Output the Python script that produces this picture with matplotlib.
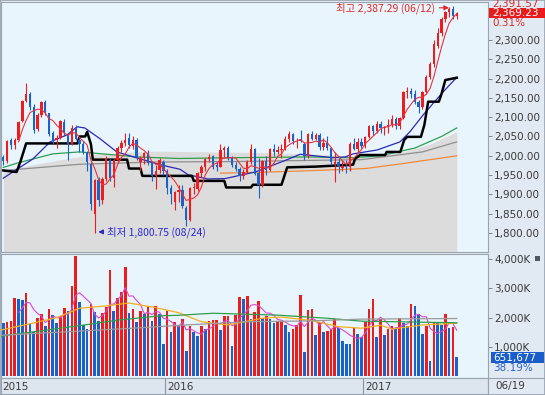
import numpy as np
import pandas as pd
import matplotlib
matplotlib.use("Agg")
import matplotlib.pyplot as plt
from matplotlib.patches import Rectangle

# weekly candles, Mar 9 2015 .. Jun 19 2017
opens = [1998, 1986, 2040, 2028, 2042, 2090, 2143, 2160, 2125, 2070, 2105, 2140, 2110, 2058, 2040, 2046, 2088, 2055, 2031, 2075,
         2040, 2030, 2010, 1980, 1850, 1937, 1886, 1941, 1990, 1942, 1990, 2019, 2034, 2045, 2025, 2040, 1985, 1995, 2006, 1982,
         1948, 1962, 1985, 1961, 1917, 1880, 1905, 1912, 1865, 1835, 1916, 1915, 1955, 1971, 1992, 2000, 1975, 1972, 2015, 2020,
         1994, 1976, 1966, 1947, 1957, 1985, 2017, 1955, 1925, 1987, 1963, 2017, 2010, 2016, 2017, 2044, 2056, 2037, 2040, 2030,
         1999, 2056, 2043, 2054, 2022, 2033, 2019, 1980, 1984, 1968, 1974, 1971, 2031, 2017, 2035, 2026, 2049, 2076, 2065, 2083,
         2073, 2075, 2080, 2094, 2078, 2097, 2164, 2168, 2160, 2140, 2125, 2165, 2205, 2238, 2285, 2318, 2355, 2371, 2381, 2361.83]
highs = [2003, 2040, 2047, 2045, 2090, 2145, 2189, 2165, 2135, 2112, 2142, 2145, 2112, 2065, 2055, 2092, 2095, 2060, 2080, 2080,
         2045, 2038, 2012, 1985, 1940, 1945, 1945, 2000, 1995, 1995, 2025, 2040, 2060, 2060, 2050, 2045, 2000, 2010, 2015, 1985,
         1975, 1995, 1990, 1965, 1925, 1910, 1925, 1925, 1870, 1918, 1930, 1958, 1975, 1995, 2005, 2003, 1985, 2030, 2025, 2025,
         2000, 1985, 1970, 1965, 1990, 2030, 2020, 1995, 1990, 2000, 2020, 2030, 2025, 2030, 2050, 2063, 2060, 2045, 2068, 2035,
         2060, 2065, 2060, 2058, 2045, 2050, 2022, 2010, 1995, 1990, 1990, 2035, 2045, 2045, 2045, 2052, 2080, 2080, 2090, 2090,
         2078, 2095, 2105, 2100, 2100, 2168, 2178, 2175, 2170, 2145, 2168, 2208, 2242, 2300, 2330, 2360, 2375, 2385, 2387.29, 2372]
lows = [1975, 1982, 2018, 2017, 2040, 2088, 2140, 2118, 2060, 2065, 2100, 2105, 2050, 2030, 2020, 2044, 2050, 1990, 2028, 2040,
        2010, 2005, 1960, 1860, 1800.75, 1870, 1875, 1935, 1935, 1920, 1985, 2010, 2025, 2020, 2018, 1990, 1960, 1980, 1975, 1935,
        1915, 1955, 1950, 1900, 1875, 1860, 1880, 1865, 1817, 1830, 1900, 1910, 1945, 1960, 1985, 1965, 1960, 1970, 1995, 1990,
        1970, 1960, 1935, 1940, 1955, 1980, 1950, 1892, 1920, 1950, 1960, 2000, 2005, 1995, 2015, 2035, 2030, 2020, 2035, 1990,
        1995, 2040, 2040, 2015, 2015, 2015, 1975, 1931, 1955, 1960, 1955, 1960, 2015, 2010, 2020, 2020, 2045, 2055, 2060, 2060,
        2055, 2060, 2075, 2070, 2070, 2095, 2150, 2150, 2135, 2110, 2120, 2160, 2200, 2230, 2280, 2310, 2345, 2360, 2355, 2355]
closes = [1986, 2037, 2028, 2042, 2087, 2143, 2159, 2127, 2068, 2106, 2138, 2114, 2056, 2042, 2046, 2090, 2058, 2031, 2073, 2044,
          2030, 2010, 1983, 1876, 1937, 1886, 1941, 1995, 1942, 1990, 2019, 2034, 2040, 2029, 2040, 1996, 1995, 2006, 1982, 1948,
          1960, 1990, 1961, 1917, 1900, 1905, 1912, 1870, 1835, 1916, 1920, 1955, 1971, 1992, 1998, 1970, 1972, 2015, 2020, 1994,
          1976, 1966, 1947, 1957, 1985, 2017, 1953, 1925, 1987, 1963, 2017, 2010, 2016, 2017, 2044, 2056, 2037, 2038, 2037, 1999,
          2056, 2043, 2054, 2022, 2033, 2019, 1983, 1984, 1974, 1974, 1971, 2031, 2017, 2035, 2026, 2049, 2076, 2065, 2083, 2073,
          2075, 2080, 2094, 2078, 2097, 2164, 2168, 2160, 2140, 2125, 2165, 2205, 2238, 2290, 2318, 2355, 2371, 2381, 2361.83, 2369.23]
volume_k = [1824, 1860, 1870, 2670, 2630, 2590, 2840, 1780, 1520, 1990, 2140, 1720, 2280, 2080, 1820, 2050, 2340, 2230, 3070, 4085,
            2525, 1750, 1610, 2470, 2200, 1900, 2170, 2370, 3640, 2230, 2660, 2890, 3710, 2170, 2280, 1860, 2230, 2140, 2390, 1900,
            2390, 2110, 1100, 2230, 1520, 1860, 1720, 1950, 865, 1720, 1500, 1360, 1720, 1610, 1900, 1910, 1920, 1590, 2040, 2070,
            1020, 2090, 2700, 2630, 2740, 1960, 2200, 2560, 1990, 2070, 1950, 1810, 1860, 1880, 1750, 1520, 1610, 1750, 2760, 840,
            2260, 2290, 1410, 1860, 1520, 1540, 1610, 1950, 1630, 1200, 1110, 1100, 1630, 1430, 1350, 1860, 2290, 2620, 1350, 1940,
            1400, 1610, 1720, 1630, 1990, 1820, 1720, 2470, 2390, 2140, 1430, 1720, 535, 1810, 1810, 1750, 2120, 1630, 1690, 651.677]

# longer averages (week index, value)
ma20_idx = [0, 7.8, 12.3, 16.7, 19.4, 21.4, 25.4, 29.8, 35.9, 41.1, 46.4, 48.5, 53.7, 58.2, 66.1, 74.5, 77.9, 86.5, 89.7, 91.8, 98.1, 104.1, 106.7, 110.2, 113.8, 115.4, 119]
ma20_val = [1942, 1992, 2036, 2054, 2075, 2072, 2044, 2010, 1992, 1977, 1965, 1951, 1940, 1941, 1958, 1990, 2004, 1995, 1997, 2005, 2015, 2036, 2062, 2106, 2147, 2165, 2203]
ma60_idx = [0, 4, 13, 20, 26, 35, 46, 60, 80, 92, 99, 108, 115, 119]
ma60_val = [1970, 1982, 2005, 2010, 2005, 1997, 1993, 1995, 1997, 1995, 2000, 2020, 2050, 2072]
ma120_idx = [0, 20, 40, 60, 80, 94, 110, 119]
ma120_val = [1962, 1978, 1984, 1985, 1988, 1990, 2010, 2036]
band_idx = [0, 15, 25, 40, 55, 70, 85, 94, 105, 112, 119]
band_val = [1962, 1990, 2005, 2012, 2010, 2008, 2003, 1995, 2010, 2030, 2062]
ma240_idx = [57, 70, 85, 95, 105, 112, 119]
ma240_val = [1955, 1958, 1963, 1967, 1980, 1990, 2000]
mid52_idx = [0, 3.5, 4.5, 6, 19.5, 20, 21.5, 22, 23, 23.5, 32.5, 33, 36, 36.5, 49.5, 50, 58, 58.5, 65, 65.5, 73, 74.5, 82, 91.8,
             92.3, 93.6, 100.2, 100.6, 104.2, 105.2, 106, 109.6, 110.5, 111.5, 114.3, 115, 116, 119]
mid52_val = [1962, 1958, 1985, 2032, 2032, 2050, 2050, 2062, 2030, 1990, 1990, 1967, 1967, 1948, 1948, 1935, 1935, 1918, 1918, 1925,
             1925, 1970, 1972, 1977, 1992, 2002, 2002, 2010, 2010, 2041, 2049, 2049, 2080, 2140, 2140, 2160, 2196, 2202]

vma20_idx = [-0.5, 8, 14, 20, 27, 33, 40, 46, 52, 59, 68, 73, 81, 88, 94, 99, 102, 110, 119]
vma20_k = [1580, 1820, 2000, 2320, 2400, 2500, 2340, 2170, 1860, 1750, 1980, 2020, 1900, 1690, 1640, 1740, 1610, 1750, 1810]
vma60_idx = [-0.5, 8, 21, 30, 41, 46, 55, 72, 85, 94, 119]
vma60_k = [1370, 1520, 1745, 1915, 2060, 2080, 2150, 2085, 1980, 1880, 1825]
vma120_idx = [-0.5, 17, 34, 47, 64, 81, 94, 119]
vma120_k = [1400, 1520, 1640, 1745, 1860, 1890, 1950, 1970]

year_idx = [0, 43, 95]
year_labels = ["2015", "2016", "2017"]

RED = "#ee1c1c"
BLUE = "#1a62c8"
BG = "#e9f5fd"
SIDE = "#e1e9f2"
KR = ["Noto Sans CJK KR", "DejaVu Sans"]

W, H = 545, 395


def box(x0, y0, x1, y1):
    return [x0 / W, 1 - y1 / H, (x1 - x0) / W, (y1 - y0) / H]


fig = plt.figure(figsize=(W / 100, H / 100), dpi=100)
fig.patch.set_facecolor(SIDE)

o = np.array(opens)
h = np.array(highs)
l = np.array(lows)
c = np.array(closes)
vol = np.array(volume_k) * 1000
idx = np.arange(len(c))
XL = (-0.6, 127.2)

# ---- price panel
ax = fig.add_axes(box(1, 2, 488, 252))
ax.set_facecolor(BG)
ax.fill_between(band_idx, band_val, 1700, color="#dcdcdc", lw=0, zorder=1)
ax.plot(ma120_idx, ma120_val, color="#8f8f8f", lw=0.9, zorder=2)
ax.plot(ma240_idx, ma240_val, color="#f08a3c", lw=0.9, zorder=2)
ax.plot(ma60_idx, ma60_val, color="#2e9e4e", lw=0.9, zorder=2)
ax.plot(ma20_idx, ma20_val, color="#2a2ab8", lw=0.9, zorder=2)
ax.plot(mid52_idx, mid52_val, color="black", lw=1.8, zorder=2.5)

up = c >= o
cols = np.where(up, RED, BLUE)
ax.vlines(idx, l, h, colors=cols, lw=0.8, zorder=3)
ax.bar(idx, np.maximum(np.abs(c - o), 1.0), bottom=np.minimum(o, c), width=0.62, color=cols, zorder=3)
ma5 = pd.Series(c).rolling(5).mean()
ax.plot(idx, ma5, color="#e8343c", lw=0.8, zorder=4)

ax.set_xlim(*XL)
ax.set_ylim(1751, 2398)
ax.set_xticks([])
ax.yaxis.tick_right()
ax.set_yticks(np.arange(1800, 2301, 50))
ax.set_yticklabels([f"{v:,.2f}" for v in np.arange(1800, 2301, 50)])
ax.tick_params(axis="y", direction="out", length=3, width=0.7, color="#7a8590",
               labelsize=7.5, labelcolor="#3a3a3a", pad=1.5)
for s in ax.spines.values():
    s.set_color("#9aa4ae")
    s.set_linewidth(0.8)

ax.text(113.3, 2383, "최고 2,387.29 (06/12)", color="#e02828", fontsize=7.5, family=KR,
        ha="right", va="center", zorder=5)
ax.annotate("", xy=(117.7, 2383), xytext=(113.7, 2383),
            arrowprops=dict(arrowstyle="-|>", color="#e02828", lw=0.8, mutation_scale=7), zorder=5)
ax.text(27.2, 1803, "최저 1,800.75 (08/24)", color="#2a2ad0", fontsize=7.5, family=KR,
        ha="left", va="center", zorder=5)
ax.annotate("", xy=(24.2, 1803), xytext=(27.0, 1803),
            arrowprops=dict(arrowstyle="-|>", color="#2a2ad0", lw=0.8, mutation_scale=7), zorder=5)

# ---- volume panel
av = fig.add_axes(box(1, 254, 488, 378))
av.set_facecolor(BG)
vcols = [BLUE] + [RED if vol[k] > vol[k - 1] else BLUE for k in range(1, len(vol))]
av.bar(idx, vol, width=0.7, color=vcols, zorder=2)
av.plot(idx, pd.Series(vol).rolling(5).mean(), color="#d84ad0", lw=0.8, zorder=3)
av.plot(vma20_idx, np.array(vma20_k) * 1000, color="#f0b020", lw=0.9, zorder=3)
av.plot(vma60_idx, np.array(vma60_k) * 1000, color="#2e9e4e", lw=0.9, zorder=3)
av.plot(vma120_idx, np.array(vma120_k) * 1000, color="#9a9a9a", lw=0.9, zorder=3)
av.set_xlim(*XL)
av.set_ylim(-58000, 4170000)
av.set_xticks([])
av.yaxis.tick_right()
vt = [1000000, 2000000, 3000000, 4000000]
av.set_yticks(vt)
av.set_yticklabels([f"{v // 1000:,}K" for v in vt])
av.tick_params(axis="y", direction="out", length=3, width=0.7, color="#7a8590",
               labelsize=7.5, labelcolor="#3a3a3a", pad=1.5)
for s in av.spines.values():
    s.set_color("#9aa4ae")
    s.set_linewidth(0.8)

# ---- date strip
ad = fig.add_axes(box(1, 378, 488, 394))
ad.set_facecolor("#dde5ee")
ad.set_xlim(*XL)
ad.set_ylim(0, 1)
ad.set_xticks([])
ad.set_yticks([])
for k, lab in zip(year_idx, year_labels):
    xs = k - 0.5 if k > 0 else XL[0]
    if k > 0:
        ad.axvline(xs, color="#8a949e", lw=0.8)
    ad.text(xs + 0.4, 0.45, lab, fontsize=7.5, color="#3a3a3a", va="center", ha="left")
for s in ad.spines.values():
    s.set_color("#9aa4ae")
    s.set_linewidth(0.8)

fig.text(495 / W, 1 - 386 / H, "06/19", fontsize=7.5, color="#3a3a3a", va="center")
fig.add_artist(Rectangle((488 / W, 0), 57 / W, 17 / H, transform=fig.transFigure,
                         facecolor="none", edgecolor="#9aa4ae", lw=0.8))

# ---- right side value boxes
fig.text(492 / W, 1 - 4 / H, "2,391.57", fontsize=7.5, color="#e02828", va="center")
fig.add_artist(Rectangle((489 / W, 1 - 18 / H), 56 / W, 10 / H, transform=fig.transFigure,
                         facecolor="#e81c1c", edgecolor="none", zorder=4))
fig.text(492 / W, 1 - 13 / H, f"{c[-1]:,.2f}", fontsize=7.5, color="white", va="center", zorder=5)
fig.text(492 / W, 1 - 23 / H, "0.31%", fontsize=7.5, color="#e02828", va="center")

fig.add_artist(Rectangle((491 / W, 1 - 363 / H), 53 / W, 11 / H, transform=fig.transFigure,
                         facecolor="#1a5cc8", edgecolor="none", zorder=4))
fig.text(493 / W, 1 - 357.5 / H, f"{int(round(volume_k[-1] * 1000)):,}", fontsize=7.5,
         color="white", va="center", zorder=5)
fig.text(493 / W, 1 - 368 / H, "38.19%", fontsize=7.5, color="#2a62d0", va="center")
fig.add_artist(Rectangle((535 / W, 1 - 261 / H), 5 / W, 5 / H, transform=fig.transFigure,
                         facecolor="#505860", edgecolor="none"))
fig.add_artist(Rectangle((0, 0), 1, 1, transform=fig.transFigure, facecolor="none",
                         edgecolor="#9aa4ae", lw=1.2))

fig.savefig("out.png", dpi=100, facecolor=fig.get_facecolor())
